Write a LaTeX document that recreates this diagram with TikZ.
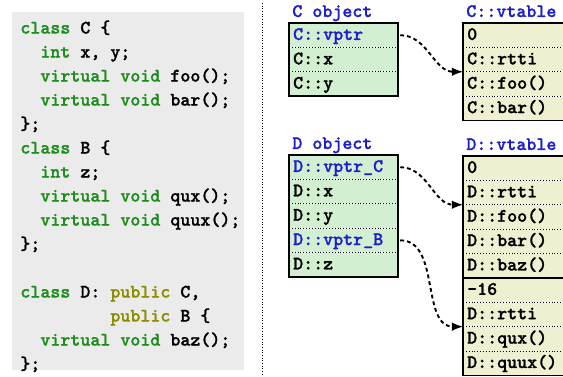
\documentclass[tikz,border=0pt]{standalone}
\usepackage{fontspec}
\usepackage{tikz}
\usetikzlibrary{positioning}

\newfontfamily\codefont{lmmonolt10-bold.otf}[FakeBold=1.2]

\definecolor{codebg}{HTML}{EBEBEB}
\definecolor{kwgreen}{HTML}{1E8C1E}
\definecolor{kwolive}{HTML}{8C8C00}
\definecolor{ptrblue}{HTML}{1E1ECC}
\definecolor{objfill}{HTML}{D2EFD2}
\definecolor{vtfill}{HTML}{EFEFD2}

\newcommand{\kw}[1]{\textcolor{kwgreen}{#1}}
\newcommand{\acc}[1]{\textcolor{kwolive}{#1}}

\tikzset{
  listing/.style={inner sep=0pt, align=left, font=\fontsize{10}{12.6}\selectfont\codefont},
  slot/.style={minimum height=12.4pt, text width=53pt, inner xsep=2pt, inner ysep=0pt,
    text height=7pt, text depth=2pt, align=left, font=\codefont},
  objslot/.style={slot, fill=objfill},
  vtslot/.style={slot, fill=vtfill},
  sep/.style={densely dotted, line width=.5pt},
  box/.style={line width=.9pt},
  ptr/.style={-latex, line width=1pt, dash pattern=on 2pt off 1.6pt, shorten <=1pt},
  objname/.style={anchor=base west, inner sep=0pt, font=\codefont, text=ptrblue}
}

\begin{document}
\begin{tikzpicture}[x=.525pt, y=-.525pt]
            \useasboundingbox (0,0) rectangle (563,377);

            % source code
            \fill[codebg] (12,12) rectangle (244,370);
            \node[listing, anchor=north west] (code) at (20,20) {%
                \kw{class} C \{\\
                ~~\kw{int} x, y;\\
                ~~\kw{virtual void} foo();\\
                ~~\kw{virtual void} bar();\\
                \};\\
                \kw{class} B \{\\
                ~~\kw{int} z;\\
                ~~\kw{virtual void} qux();\\
                ~~\kw{virtual void} quux();\\
                \};\\
                \mbox{}\\
                \kw{class} D: \acc{public} C,\\
                ~~~~~~~~~\acc{public} B \{\\
                ~~\kw{virtual void} baz();\\
                \};};

            \draw[densely dotted, line width=.4pt] (262,3) -- (262,375);

            % C object and its vtable
            \node[objslot, anchor=north west, text=ptrblue] (cv) at (289,23) {C::vptr};
            \node[objslot, below=0pt of cv] (cx) {C::x};
            \node[objslot, below=0pt of cx] (cy) {C::y};

            \node[vtslot, anchor=north west] (cvt0) at (463,23) {0};
            \node[vtslot, below=0pt of cvt0] (crtti) {C::rtti};
            \node[vtslot, below=0pt of crtti] (cfoo) {C::foo()};
            \node[vtslot, below=0pt of cfoo] (cbar) {C::bar()};

            % D object and its vtable
            \node[objslot, anchor=north west, text=ptrblue] (dvc) at (289,155) {D::vptr\_C};
            \node[objslot, below=0pt of dvc] (dx) {D::x};
            \node[objslot, below=0pt of dx] (dy) {D::y};
            \node[objslot, below=0pt of dy, text=ptrblue] (dvb) {D::vptr\_B};
            \node[objslot, below=0pt of dvb] (dz) {D::z};

            \node[vtslot, anchor=north west] (dvt0) at (463,156) {0};
            \node[vtslot, below=0pt of dvt0] (drtti) {D::rtti};
            \node[vtslot, below=0pt of drtti] (dfoo) {D::foo()};
            \node[vtslot, below=0pt of dfoo] (dbar) {D::bar()};
            \node[vtslot, below=0pt of dbar] (dbaz) {D::baz()};
            \node[vtslot, below=0pt of dbaz] (dvt16) {-16};
            \node[vtslot, below=0pt of dvt16] (drttib) {D::rtti};
            \node[vtslot, below=0pt of drttib] (dqux) {D::qux()};
            \node[vtslot, below=0pt of dqux] (dquux) {D::quux()};

            \foreach \n in {cx,cy,crtti,cfoo,cbar,dx,dy,dvb,dz,drtti,dfoo,dbar,dbaz,drttib,dqux,dquux}
                \draw[sep] (\n.north west) -- (\n.north east);
            \draw[box] (dvt16.north west) -- (dvt16.north east);

            \draw[box] (cv.north west) rectangle (cy.south east);
            \draw[box] (cvt0.north west) rectangle (cbar.south east);
            \draw[box] (dvc.north west) rectangle (dz.south east);
            \draw[box] (dvt0.north west) rectangle (dquux.south east);

            \node[objname] (cobj) at ([shift={(3,-6)}]cv.north west) {C object};
            \node[objname] (cvtbl) at ([shift={(3,-6)}]cvt0.north west) {C::vtable};
            \node[objname] (dobj) at ([shift={(3,-6)}]dvc.north west) {D object};
            \node[objname] (dvtbl) at ([shift={(3,-6)}]dvt0.north west) {D::vtable};

            \draw[ptr] (cv.east) to[out=0, in=180] (cfoo.north west);
            \draw[ptr] (dvc.east) to[out=0, in=180] (dfoo.north west);
            \draw[ptr] (dvb.east) to[out=0, in=180] (dqux.north west);
\end{tikzpicture}
\end{document}
